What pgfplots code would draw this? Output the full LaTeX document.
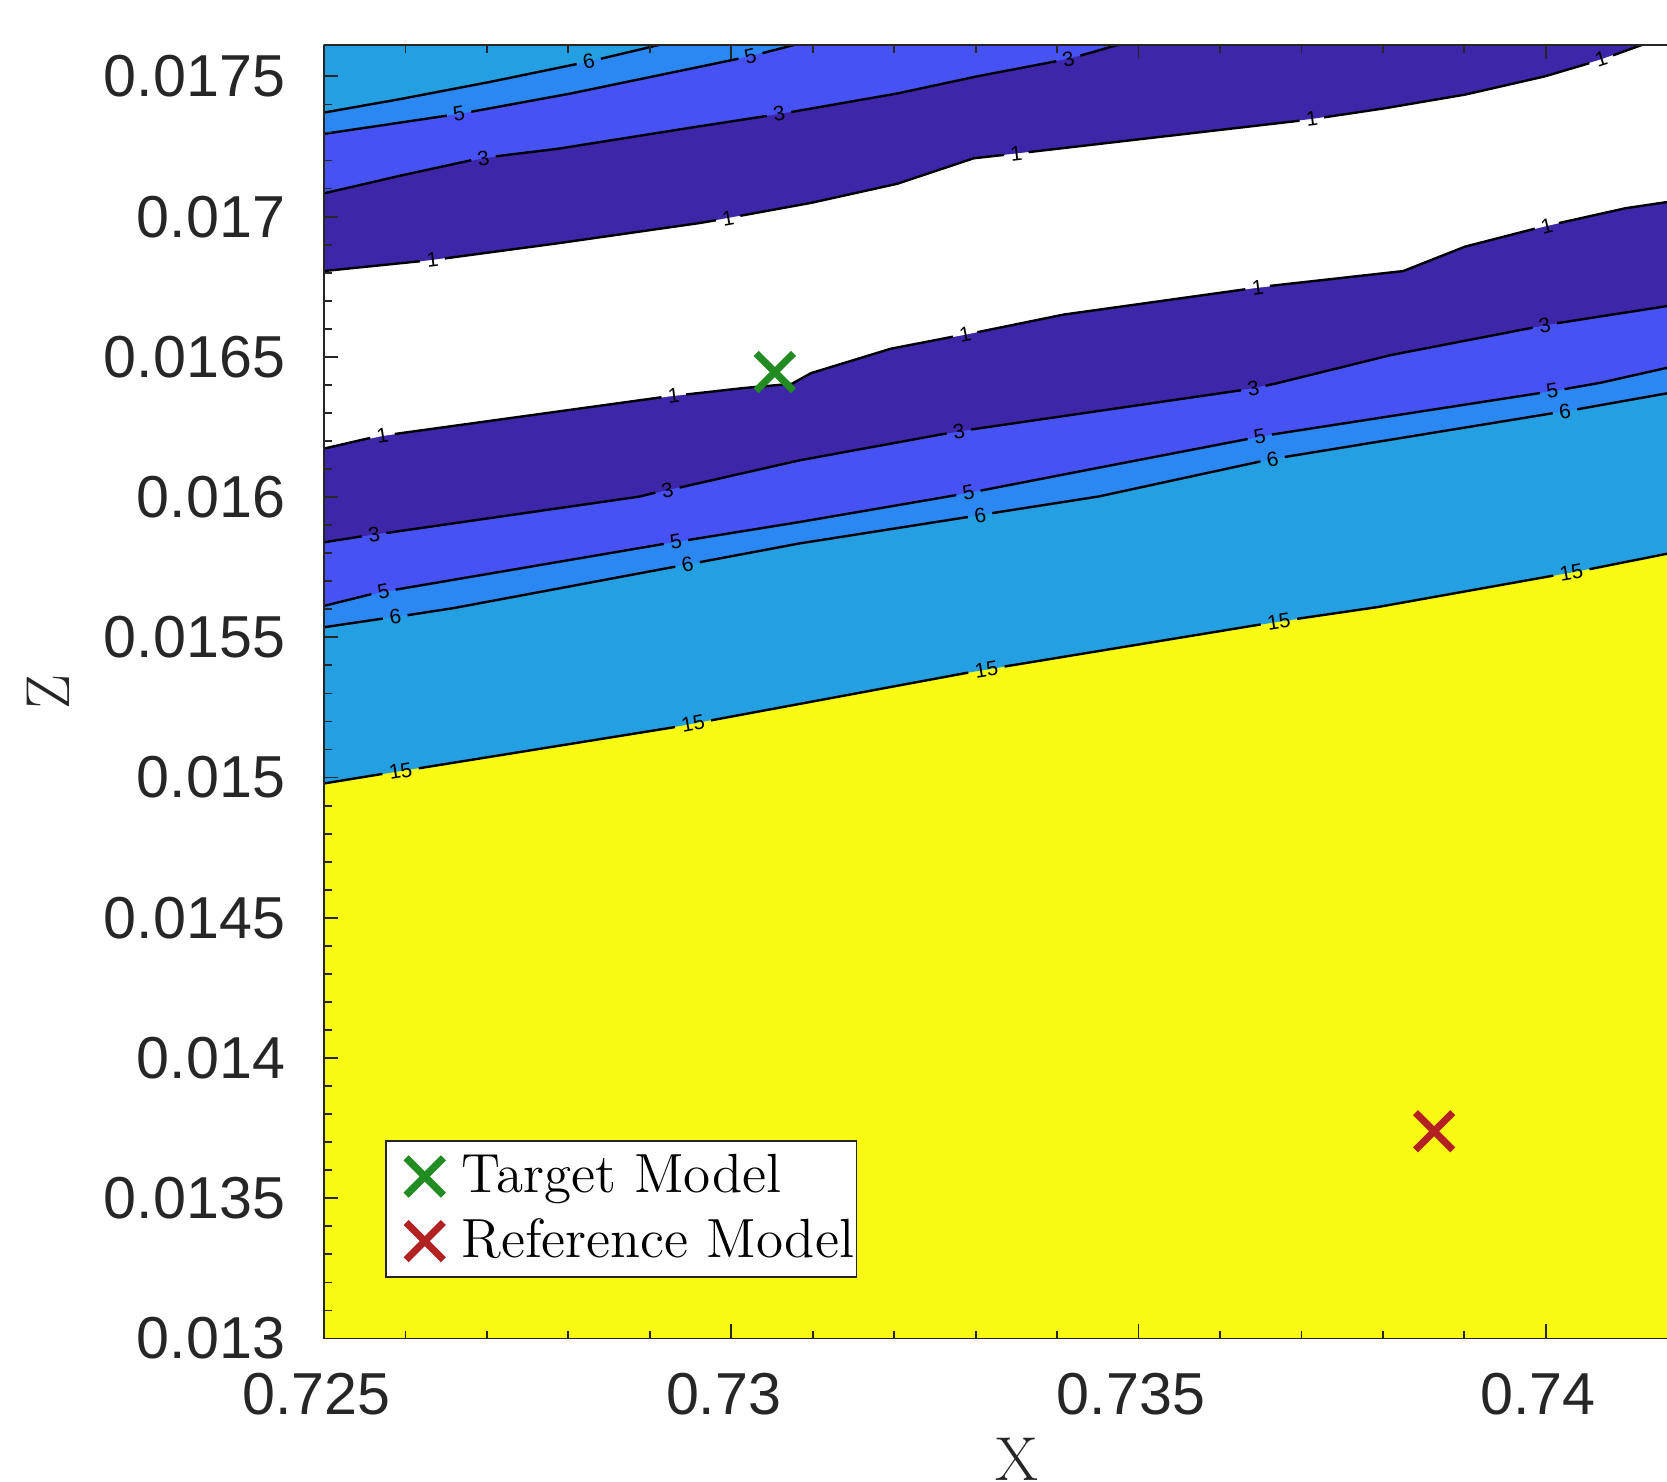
\documentclass[border=0pt]{standalone}
\usepackage{fontspec}
\usepackage{pgfplots}
\pgfplotsset{compat=1.18}
\usetikzlibrary{calc}
\newfontfamily\hv{Liberation Sans}
\definecolor{cInd}{RGB}{61,38,168}
\definecolor{cBlu}{RGB}{70,82,243}
\definecolor{cLbl}{RGB}{43,135,242}
\definecolor{cCya}{RGB}{36,160,226}
\definecolor{cYel}{RGB}{248,250,20}
\definecolor{cTxt}{RGB}{38,38,38}
\definecolor{cGrn}{RGB}{34,139,34}
\definecolor{cRed}{RGB}{178,34,34}
\pgfplotsset{
  clabels/.style={forget plot, only marks, mark=none, nodes near coords, point meta=explicit symbolic,
    visualization depends on={value \thisrow{a}\as\ang},
    nodes near coords style={anchor=center, rotate=\ang, inner sep=0pt,
      font=\hv\fontsize{5.2}{5.2}\selectfont, text=black}},
  cfill/.style={fill=#1, draw=none, forget plot},
  cline/.style={black, line width=0.6pt, forget plot, no markers, unbounded coords=jump},
}
\begin{document}
\begin{tikzpicture}
\begin{axis}[name=ax, scale only axis, width=335.75pt, height=323.45pt,
  xmin=0.725, xmax=0.741488, ymin=0.013, ymax=0.017613,
  axis on top, clip=true, scaled ticks=false,
  axis x line*=box, axis y line*=left,
  axis line style={cTxt, line width=0.45pt},
  xtick={0.725,0.73,0.735,0.74}, xticklabels={0.725,0.73,0.735,0.74},
  ytick={0.013,0.0135,0.014,0.0145,0.015,0.0155,0.016,0.0165,0.017,0.0175},
  yticklabels={0.013,0.0135,0.014,0.0145,0.015,0.0155,0.016,0.0165,0.017,0.0175},
  minor x tick num=4, minor y tick num=4,
  tick align=inside, major tick length=3.6pt, minor tick length=2pt,
  tick style={cTxt, line width=0.45pt},
  ticklabel style={font=\hv\fontsize{14.8}{17}\selectfont, text=cTxt},
  xticklabel style={xshift=-1.9pt, yshift=-5.1pt},
  yticklabel style={xshift=-6.2pt},
  xlabel={X}, ylabel={Z},
  xlabel style={at={(axis description cs:0.516,0)}, anchor=north, yshift=-24.6pt, inner sep=0pt, font=\fontsize{15.5}{18}\selectfont, text=cTxt},
  ylabel style={at={(axis description cs:-0.2055,0.5)}, anchor=center, inner sep=0pt, font=\fontsize{15.5}{18}\selectfont, text=cTxt},
  legend style={at={(axis description cs:0.0454,0.0468)}, anchor=south west, draw=cTxt, line width=0.4pt, fill=white,
    font=\fontsize{13.8}{16}\selectfont, inner xsep=0.6pt, inner ysep=1.4pt, row sep=1pt, nodes={inner xsep=0pt}},
  legend cell align=left,
  legend image code/.code={\draw[#1] plot coordinates {(0pt,0pt)}; \path (-8.95pt,0pt) (9pt,0pt);},
]
% filled regions
\addplot[cfill=cYel] coordinates {(0.7245,0.0125)(0.7420,0.0125)(0.7420,0.0177)(0.7245,0.0177)} --cycle;
\addplot[cfill=cCya] coordinates {(0.725000,0.014979)(0.729373,0.015184)(0.732885,0.015373)(0.736619,0.015551)(0.737937,0.015608)(0.740352,0.015733)(0.741488,0.015798)(0.7420,0.0177)(0.7245,0.0177)} --cycle;
\addplot[cfill=cLbl] coordinates {(0.725000,0.015536)(0.726587,0.015604)(0.729463,0.015760)(0.730842,0.015835)(0.734507,0.016002)(0.736632,0.016135)(0.740345,0.016311)(0.741488,0.016370)(0.7420,0.0177)(0.7245,0.0177)} --cycle;
\addplot[cfill=cBlu] coordinates {(0.725000,0.015612)(0.725718,0.015661)(0.729334,0.015841)(0.730836,0.015911)(0.732885,0.016014)(0.734569,0.016108)(0.736619,0.016222)(0.740144,0.016381)(0.740679,0.016408)(0.741488,0.016461)(0.7420,0.0177)(0.7245,0.0177)} --cycle;
\addplot[cfill=cInd] coordinates {(0.725000,0.015839)(0.725601,0.015866)(0.728877,0.016002)(0.729334,0.016033)(0.730836,0.016131)(0.732794,0.016234)(0.736410,0.016389)(0.736671,0.016404)(0.738107,0.016507)(0.740000,0.016613)(0.741488,0.016681)(0.7420,0.0177)(0.7245,0.0177)} --cycle;
\addplot[cfill=white] coordinates {(0.725000,0.016173)(0.725718,0.016218)(0.729243,0.016359)(0.730157,0.016389)(0.730744,0.016404)(0.730979,0.016442)(0.731958,0.016529)(0.732872,0.016579)(0.734086,0.016651)(0.736423,0.016745)(0.738251,0.016806)(0.739008,0.016893)(0.739987,0.016965)(0.740979,0.017030)(0.741488,0.017052)(0.7420,0.0177)(0.7245,0.0177)} --cycle;
\addplot[cfill=cInd] coordinates {(0.725000,0.016806)(0.726279,0.016844)(0.727872,0.016905)(0.729608,0.016977)(0.730979,0.017049)(0.732037,0.017117)(0.732977,0.017208)(0.733551,0.017227)(0.737115,0.017348)(0.738016,0.017386)(0.739008,0.017435)(0.739987,0.017500)(0.740666,0.017560)(0.741188,0.017613)(0.741449,0.017640)(0.7245,0.0177)} --cycle;
\addplot[cfill=cBlu] coordinates {(0.725000,0.017083)(0.725953,0.017147)(0.726958,0.017208)(0.727872,0.017242)(0.729608,0.017322)(0.730601,0.017367)(0.732037,0.017439)(0.733016,0.017500)(0.734151,0.017564)(0.734752,0.017613)(0.734882,0.017625)(0.7245,0.0177)} --cycle;
\addplot[cfill=cLbl] coordinates {(0.725000,0.017295)(0.726671,0.017367)(0.728029,0.017439)(0.729608,0.017534)(0.730222,0.017572)(0.730783,0.017613)(0.730914,0.017623)(0.7245,0.0177)} --cycle;
\addplot[cfill=cCya] coordinates {(0.725000,0.017371)(0.725953,0.017420)(0.727050,0.017481)(0.728251,0.017553)(0.729125,0.017613)(0.729256,0.017623)(0.7245,0.0177)} --cycle;
% contour lines (broken where the labels sit)
\addplot[cline] coordinates {(0.725000,0.014979)(0.725717,0.015013)(0.7259,nan)(0.726163,0.015033)(0.729308,0.015180)(0.7295,nan)(0.729752,0.015204)(0.732885,0.015373)(0.732910,0.015374)(0.7331,nan)(0.733356,0.015396)(0.736500,0.015546)(0.7367,nan)(0.736947,0.015566)(0.737937,0.015608)(0.740092,0.015720)(0.7403,nan)(0.740536,0.015743)(0.741488,0.015798)};
\addplot[cline] coordinates {(0.725000,0.015536)(0.725724,0.015567)(0.7259,nan)(0.726026,0.015579)(0.726587,0.015604)(0.729313,0.015752)(0.7295,nan)(0.729613,0.015768)(0.730842,0.015835)(0.732905,0.015929)(0.7331,nan)(0.733205,0.015943)(0.734507,0.016002)(0.736495,0.016127)(0.7366,nan)(0.736795,0.016143)(0.740085,0.016299)(0.7402,nan)(0.740385,0.016313)(0.741488,0.016370)};
\addplot[cline] coordinates {(0.725000,0.015612)(0.725582,0.015654)(0.7257,nan)(0.725880,0.015670)(0.729171,0.015833)(0.7293,nan)(0.729471,0.015847)(0.730836,0.015911)(0.732762,0.016007)(0.7329,nan)(0.733060,0.016023)(0.734569,0.016108)(0.736339,0.016207)(0.7365,nan)(0.736637,0.016223)(0.739929,0.016371)(0.7401,nan)(0.740229,0.016385)(0.740679,0.016408)(0.741488,0.016461)};
\addplot[cline] coordinates {(0.725000,0.015839)(0.725463,0.015860)(0.7256,nan)(0.725765,0.015872)(0.728877,0.016002)(0.729068,0.016016)(0.7292,nan)(0.729366,0.016034)(0.730836,0.016131)(0.732644,0.016227)(0.7328,nan)(0.732944,0.016241)(0.736260,0.016381)(0.7364,nan)(0.736560,0.016397)(0.736671,0.016404)(0.738107,0.016507)(0.739838,0.016604)(0.7400,nan)(0.740137,0.016620)(0.741488,0.016681)};
\addplot[cline] coordinates {(0.725000,0.016173)(0.725568,0.016211)(0.7257,nan)(0.725868,0.016225)(0.729144,0.016356)(0.7293,nan)(0.729446,0.016366)(0.730157,0.016389)(0.730744,0.016404)(0.730979,0.016442)(0.731958,0.016529)(0.732723,0.016572)(0.7329,nan)(0.733021,0.016588)(0.734086,0.016651)(0.736311,0.016741)(0.7365,nan)(0.736613,0.016753)(0.738251,0.016806)(0.739008,0.016893)(0.739865,0.016957)(0.7400,nan)(0.740161,0.016977)(0.740979,0.017030)(0.741488,0.017052)};
\addplot[cline] coordinates {(0.725000,0.016806)(0.726181,0.016841)(0.7263,nan)(0.726483,0.016851)(0.727872,0.016905)(0.729608,0.016977)(0.729811,0.016987)(0.7300,nan)(0.730111,0.017003)(0.730979,0.017049)(0.732037,0.017117)(0.732977,0.017208)(0.733348,0.017220)(0.7335,nan)(0.733650,0.017230)(0.736977,0.017342)(0.7371,nan)(0.737279,0.017354)(0.738016,0.017386)(0.739008,0.017435)(0.739987,0.017500)(0.740534,0.017547)(0.7407,nan)(0.740824,0.017575)(0.741188,0.017613)(0.741449,0.017640)};
\addplot[cline] coordinates {(0.725000,0.017083)(0.725953,0.017147)(0.726808,0.017201)(0.7269,nan)(0.727108,0.017215)(0.727872,0.017242)(0.729608,0.017322)(0.730437,0.017359)(0.7306,nan)(0.730737,0.017373)(0.732037,0.017439)(0.733016,0.017500)(0.733991,0.017554)(0.7341,nan)(0.734287,0.017574)(0.734752,0.017613)(0.734882,0.017625)};
\addplot[cline] coordinates {(0.725000,0.017295)(0.726508,0.017360)(0.7267,nan)(0.726808,0.017374)(0.728029,0.017439)(0.729608,0.017534)(0.730087,0.017563)(0.7302,nan)(0.730383,0.017583)(0.730783,0.017613)(0.730914,0.017623)};
\addplot[cline] coordinates {(0.725000,0.017371)(0.725953,0.017420)(0.727050,0.017481)(0.728102,0.017544)(0.7282,nan)(0.728400,0.017563)(0.729125,0.017613)(0.729256,0.017623)};
% contour labels
\addplot[clabels] table[meta=l] {
x y l a
0.725940 0.015023 15 9.2
0.729530 0.015192 15 10.5
0.733133 0.015385 15 9.3
0.736723 0.015556 15 8.4
0.740314 0.015731 15 10.1
0.725875 0.015573 6 8.3
0.729463 0.015760 6 10.6
0.733055 0.015936 6 8.9
0.736645 0.016135 6 10.5
0.740235 0.016306 6 9.3
0.725731 0.015662 5 11
0.729321 0.015840 5 9.7
0.732911 0.016015 5 11
0.736488 0.016215 5 10.8
0.740079 0.016378 5 8.8
0.725614 0.015866 3 8.2
0.729217 0.016025 3 11.5
0.732794 0.016234 3 9.3
0.736410 0.016389 3 10
0.739987 0.016612 3 10.9
0.725718 0.016218 1 9
0.729295 0.016361 1 7
0.732872 0.016580 1 11
0.736462 0.016747 1 7.2
0.740013 0.016967 1 13.4
0.726332 0.016846 1 7
0.729961 0.016995 1 10.3
0.733499 0.017225 1 7
0.737128 0.017348 1 7.5
0.740679 0.017561 1 18
0.726958 0.017208 3 9.5
0.730587 0.017366 3 9.4
0.734139 0.017563 3 13
0.726658 0.017367 5 9.4
0.730235 0.017572 5 13
0.728251 0.017553 6 12.5
};
% model markers
\addplot[only marks, mark=x, mark size=6.6pt, mark options={line width=1.8pt}, color=cGrn] coordinates {(0.730535,0.016446)};
\addlegendentry{Target Model}
\addplot[only marks, mark=x, mark size=6.6pt, mark options={line width=1.8pt}, color=cRed] coordinates {(0.738629,0.013739)};
\addlegendentry{Reference Model}
\end{axis}
\pgfresetboundingbox
\useasboundingbox ($(ax.south west)+(-81pt,-35.625pt)$) rectangle ($(ax.north east)+(0pt,11.175pt)$);
\end{tikzpicture}
\end{document}
